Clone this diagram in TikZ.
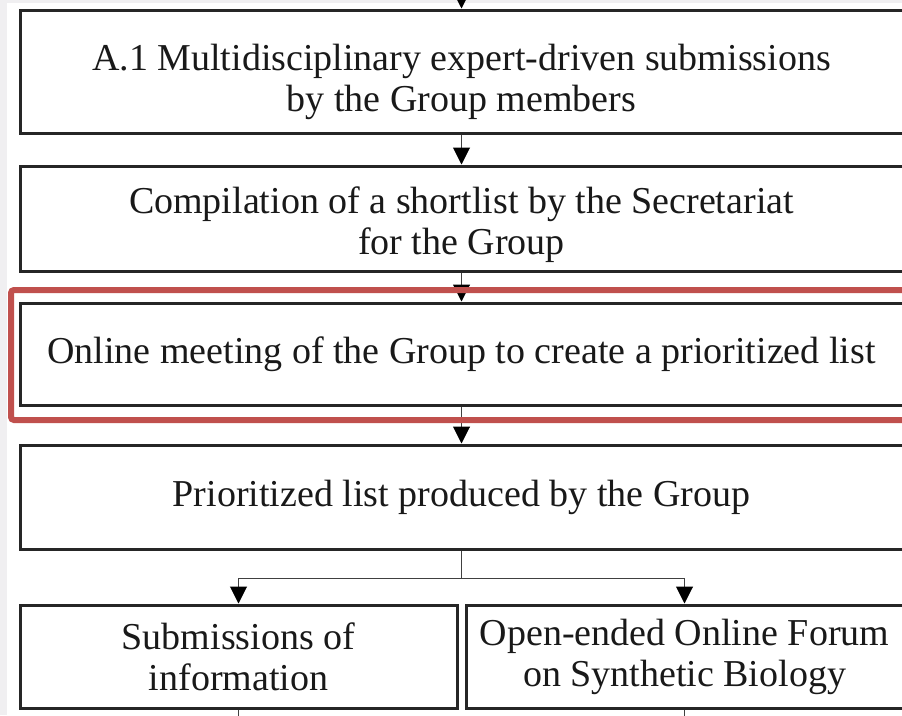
\documentclass[tikz,border=0pt]{standalone}
\usepackage{fontspec}
\setmainfont{Liberation Serif}
\usetikzlibrary{arrows.meta}
\tikzset{
  stagebox/.style={shape=rectangle,draw=black!85,line width=3pt,fill=white,align=center,
    text=black!90,font=\fontsize{38}{41}\selectfont,minimum width=883pt},
  flowarrow/.style={draw=black!75,line width=1pt,-{Triangle[length=17pt,width=17pt,color=black,fill=black]}},
  flowline/.style={draw=black!75,line width=1pt}
}
\begin{document}
\begin{tikzpicture}[x=1pt,y=-1pt]
    \definecolor{hlred}{RGB}{192,80,77}
    \definecolor{pagegray}{RGB}{240,239,241}
    \useasboundingbox (0,0) rectangle (902,715);
    \clip (0,0) rectangle (902,715);
    \fill[white] (0,0) rectangle (902,715);
    \fill[pagegray] (0,0) rectangle (7,715);
    \fill[pagegray] (0,0) rectangle (902,3);
    % main column
    \node[stagebox,minimum height=123pt] (submit) at (461.5,71.5) {\rule{0pt}{48pt}A.1 Multidisciplinary expert-driven submissions\\by the Group members};
    \node[stagebox,minimum height=105pt] (shortlist) at (461.5,218.5) {\rule{0pt}{40pt}Compilation of a shortlist by the Secretariat\\for the Group};
    \node[stagebox,minimum height=102pt] (meeting) at (461.5,354) {Online meeting of the Group to create a prioritized list};
    \node[stagebox,minimum height=104pt] (prilist) at (461.5,497) {Prioritized list produced by the Group};
    % two outputs
    \node[stagebox,minimum width=437pt,minimum height=103pt] (info) at (238.5,656.5) {Submissions of\\information};
    \node[stagebox,minimum width=437pt,minimum height=103pt] (forum) at (684.5,656.5) {Open-ended Online Forum\\on Synthetic Biology};
    \coordinate (intop) at (461.5,-12);
    \coordinate (infoout) at (238.5,730);
    \coordinate (forumout) at (684.5,730);
    \draw[flowarrow] (intop) -- (submit.north);
    \draw[flowarrow] (submit.south) -- (shortlist.north);
    \draw[flowarrow] (shortlist.south) -- (meeting.north);
    \draw[flowarrow] (meeting.south) -- (prilist.north);
    \draw[flowline] (prilist.south) -- ++(0,28) coordinate (split);
    \draw[flowarrow] (split) -| (info.north);
    \draw[flowarrow] (split) -| (forum.north);
    \draw[flowline] (info.south) -- (infoout);
    \draw[flowline] (forum.south) -- (forumout);
    % highlight
    \draw[hlred,line width=6pt,rounded corners=3pt] (11,290) rectangle (915,420);
\end{tikzpicture}
\end{document}
